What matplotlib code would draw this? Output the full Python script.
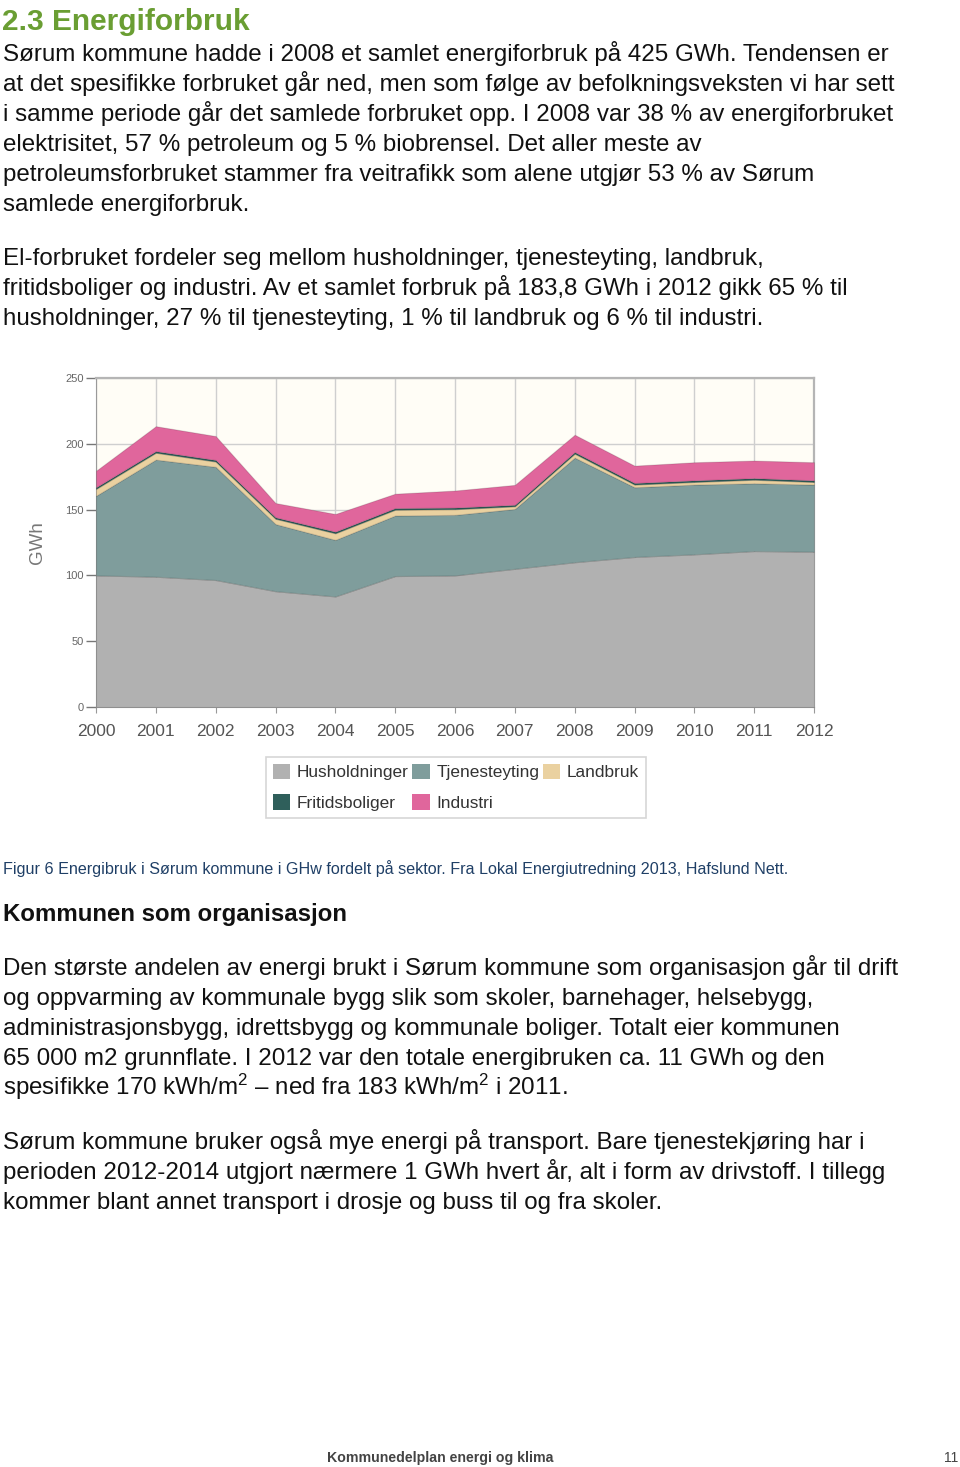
import matplotlib
matplotlib.use("Agg")
import matplotlib.pyplot as plt
from matplotlib.patches import Patch

plt.rcParams["font.family"] = ["Liberation Sans", "DejaVu Sans"]
plt.rcParams["mathtext.fontset"] = "custom"
plt.rcParams["mathtext.rm"] = "Liberation Sans"
plt.rcParams["mathtext.default"] = "regular"

# --- data (GWh) ---
years = list(range(2000, 2013))
husholdninger = [100, 99, 96.5, 88, 84, 99.5, 100, 105, 110, 114, 116, 118.5, 118]
tjenesteyting = [60.5, 89, 86, 51, 43, 46, 46, 45.5, 79.5, 53, 53, 51.5, 51]
landbruk = [5.2, 5.2, 4.0, 4.0, 5.0, 4.4, 4.3, 2.0, 3.0, 2.0, 2.0, 2.7, 2.0]
fritidsboliger = [1.2, 1.2, 1.2, 1.1, 1.2, 1.2, 1.2, 1.1, 1.2, 1.2, 1.2, 1.2, 1.2]
industri = [12.6, 19, 18.2, 10.9, 13.5, 11, 13, 15.2, 13.2, 13.2, 13.8, 13.4, 13.8]
sectors = ["Husholdninger", "Tjenesteyting", "Landbruk", "Fritidsboliger", "Industri"]
colors = ["#b1b1b1", "#7f9d9c", "#ead1a0", "#2f5f5b", "#e0669c"]
yticks = [0, 50, 100, 150, 200, 250]

heading = "2.3 Energiforbruk"
para1 = [
    "Sørum kommune hadde i 2008 et samlet energiforbruk på 425 GWh. Tendensen er",
    "at det spesifikke forbruket går ned, men som følge av befolkningsveksten vi har sett",
    "i samme periode går det samlede forbruket opp. I 2008 var 38 % av energiforbruket",
    "elektrisitet, 57 % petroleum og 5 % biobrensel. Det aller meste av",
    "petroleumsforbruket stammer fra veitrafikk som alene utgjør 53 % av Sørum",
    "samlede energiforbruk.",
]
para2 = [
    "El-forbruket fordeler seg mellom husholdninger, tjenesteyting, landbruk,",
    "fritidsboliger og industri. Av et samlet forbruk på 183,8 GWh i 2012 gikk 65 % til",
    "husholdninger, 27 % til tjenesteyting, 1 % til landbruk og 6 % til industri.",
]
caption = ("Figur 6 Energibruk i Sørum kommune i GHw fordelt på sektor. "
           "Fra Lokal Energiutredning 2013, Hafslund Nett.")
heading2 = "Kommunen som organisasjon"
para3 = [
    "Den største andelen av energi brukt i Sørum kommune som organisasjon går til drift",
    "og oppvarming av kommunale bygg slik som skoler, barnehager, helsebygg,",
    "administrasjonsbygg, idrettsbygg og kommunale boliger. Totalt eier kommunen",
    "65 000 m2 grunnflate. I 2012 var den totale energibruken ca. 11 GWh og den",
    "spesifikke 170 kWh/m$^2$ – ned fra 183 kWh/m$^2$ i 2011.",
]
para4 = [
    "Sørum kommune bruker også mye energi på transport. Bare tjenestekjøring har i",
    "perioden 2012-2014 utgjort nærmere 1 GWh hvert år, alt i form av drivstoff. I tillegg",
    "kommer blant annet transport i drosje og buss til og fra skoler.",
]
footer = "Kommunedelplan energi og klima"
page_no = "11"

W, H = 960, 1467
fig = plt.figure(figsize=(W / 100, H / 100), dpi=100)


def put(x, y, s, **kw):
    # x, y in pixels from top-left, y is the baseline
    fig.text(x / W, 1 - y / H, s, va="baseline", ha=kw.pop("ha", "left"), **kw)


def lines(block, y0, step=30, size=17.4):
    for k, s in enumerate(block):
        put(3, y0 + k * step, s, fontsize=size, color="#111111")


put(2, 30, heading, fontsize=21.5, fontweight="bold", color="#6a9e33")
lines(para1, 61)
lines(para2, 265)

# --- chart ---
ax = fig.add_axes([96 / W, 1 - 707 / H, 718 / W, 329 / H])
ax.set_facecolor("#fffdf6")
ax.stackplot(years, husholdninger, tjenesteyting, landbruk, fritidsboliger,
             industri, colors=colors, labels=sectors,
             edgecolor="#00000022", linewidth=0.8, zorder=3)
ax.set_xlim(2000, 2012)
ax.set_ylim(0, 250)
ax.set_xticks(years)
ax.set_yticks(yticks)
ax.grid(True, color="#cfcfcf", linewidth=1, zorder=0)
ax.tick_params(axis="y", labelsize=8, colors="#777777", length=7, width=1,
               labelcolor="#666666", pad=2)
ax.tick_params(axis="x", labelsize=12.5, colors="#999999", length=4,
               labelcolor="#555555", pad=8)
for side in ("left", "bottom"):
    ax.spines[side].set_color("#9a9a9a")
for side in ("top", "right"):
    ax.spines[side].set_color("#b5b5b5")
    ax.spines[side].set_linewidth(1.6)
ax.set_ylabel("GWh", fontsize=13.5, color="#777777", labelpad=14)

h = [Patch(facecolor=c) for c in colors]
order = [0, 3, 1, 4, 2]
leg = fig.legend([h[i] for i in order], [sectors[i] for i in order], ncol=3,
                 loc="upper left", bbox_to_anchor=(266 / W, 1 - 757 / H),
                 borderaxespad=0, fontsize=12.4, frameon=True, fancybox=False,
                 handlelength=1.0, handleheight=1.0, handletextpad=0.4,
                 columnspacing=0.2, labelspacing=0.8, borderpad=0.4,
                 labelcolor="#333333")
leg.get_frame().set_edgecolor("#cccccc")
leg.get_frame().set_linewidth(1.2)

put(3, 874, caption, fontsize=11.6, color="#1f3f66")
put(3, 921, heading2, fontsize=17.3, fontweight="bold", color="#111111")
lines(para3, 975)
lines(para4, 1149)

put(327, 1462, footer, fontsize=10.2, color="#444444", fontweight="bold")
put(958, 1462, page_no, fontsize=10, color="#444444", ha="right")

fig.savefig("out.png", dpi=100)
